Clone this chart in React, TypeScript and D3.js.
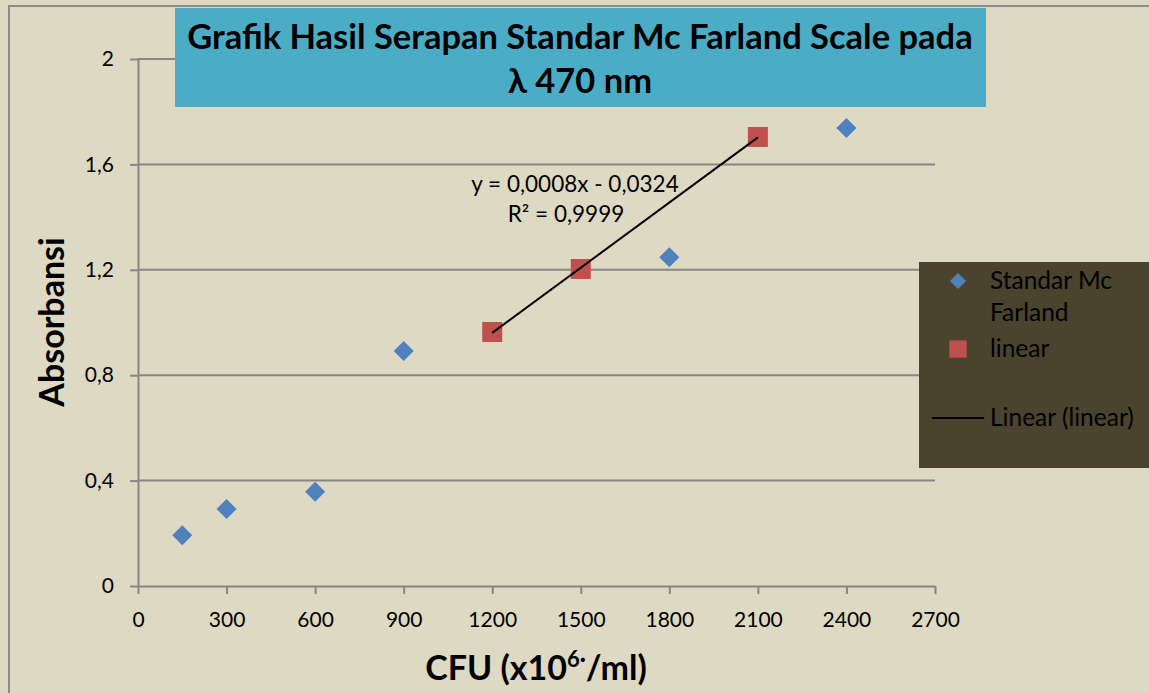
import * as d3 from "d3";
import { useEffect, useRef } from "react";

const standarX = [150, 300, 600, 900, 1800, 2400];
const standarY = [0.193, 0.292, 0.358, 0.892, 1.248, 1.738];
const linearX = [1200, 1500, 2100];
const linearY = [0.964, 1.203, 1.704];
const xTicks = [0, 300, 600, 900, 1200, 1500, 1800, 2100, 2400, 2700];
const yTicks = [0, 0.4, 0.8, 1.2, 1.6, 2];

const W = 1149;
const H = 693;

export default function App() {
  const svgRef = useRef<SVGSVGElement>(null);

  useEffect(() => {
    const svg = d3.select(svgRef.current);
    svg.selectAll("*").remove();
    const font = "Lato, 'Open Sans', sans-serif";

    // background + outer border
    svg.append("rect").attr("width", W).attr("height", H).attr("fill", "#ddd9c3");
    svg.append("path")
      .attr("d", `M9,${H} V6 H${W}`)
      .attr("fill", "none")
      .attr("stroke", "#8c8c8c")
      .attr("stroke-width", 2);

    const x = d3.scaleLinear().domain([0, 2700]).range([138, 935]);
    const y = d3.scaleLinear().domain([0, 2]).range([586, 59]);

    // gridlines
    svg.append("g")
      .selectAll("line")
      .data(yTicks.slice(1))
      .join("line")
      .attr("x1", x(0))
      .attr("x2", x(2700))
      .attr("y1", (d) => y(d))
      .attr("y2", (d) => y(d))
      .attr("stroke", "#868686")
      .attr("stroke-width", 2);

    // y axis
    const fmt = (d: number) => (d === 0 ? "0" : d3.format("~g")(d).replace(".", ","));
    const yAxis = svg.append("g")
      .attr("transform", `translate(${x(0)},0)`)
      .call(d3.axisLeft(y).tickValues(yTicks).tickSize(8).tickSizeOuter(0).tickPadding(16).tickFormat((d) => fmt(d as number)));
    // x axis
    const xAxis = svg.append("g")
      .attr("transform", `translate(0,${y(0)})`)
      .call(d3.axisBottom(x).tickValues(xTicks).tickSize(8).tickSizeOuter(0).tickPadding(18).tickFormat((d) => String(d)));
    [yAxis, xAxis].forEach((a) => {
      a.selectAll("path, line").attr("stroke", "#868686").attr("stroke-width", 2);
      a.selectAll("text").attr("font-family", font).attr("font-size", 21).attr("fill", "#000");
    });

    // axis titles
    svg.append("text")
      .attr("transform", `translate(64,322) rotate(-90)`)
      .attr("text-anchor", "middle")
      .attr("font-family", font)
      .attr("font-weight", "bold")
      .attr("font-size", 34)
      .text("Absorbansi");
    const xt = svg.append("text")
      .attr("x", 536)
      .attr("y", 680)
      .attr("text-anchor", "middle")
      .attr("font-family", font)
      .attr("font-weight", "bold")
      .attr("font-size", 34);
    xt.append("tspan").text("CFU (x10");
    xt.append("tspan").attr("dy", -13).attr("font-size", 22).text("6·");
    xt.append("tspan").attr("dy", 13).text("/ml)");

    // trendline (least squares on linear series)
    const mx = d3.mean(linearX)!;
    const my = d3.mean(linearY)!;
    const slope =
      d3.sum(linearX, (v, i) => (v - mx) * (linearY[i] - my)) /
      d3.sum(linearX, (v) => (v - mx) ** 2);
    const icpt = my - slope * mx;
    const x0 = d3.min(linearX)!;
    const x1 = d3.max(linearX)!;

    // markers
    svg.append("g")
      .selectAll("path")
      .data(standarX.map((v, i) => [v, standarY[i]]))
      .join("path")
      .attr("transform", (d) => `translate(${x(d[0])},${y(d[1])}) rotate(45)`)
      .attr("d", d3.symbol().type(d3.symbolSquare).size(200)())
      .attr("fill", "#4f81bd");
    svg.append("g")
      .selectAll("path")
      .data(linearX.map((v, i) => [v, linearY[i]]))
      .join("path")
      .attr("transform", (d) => `translate(${x(d[0])},${y(d[1])})`)
      .attr("d", d3.symbol().type(d3.symbolSquare).size(400)())
      .attr("fill", "#c0504d");

    svg.append("line")
      .attr("x1", x(x0))
      .attr("y1", y(slope * x0 + icpt))
      .attr("x2", x(x1))
      .attr("y2", y(slope * x1 + icpt))
      .attr("stroke", "#000")
      .attr("stroke-width", 2);

    svg.append("text")
      .attr("x", 575)
      .attr("y", 192)
      .attr("text-anchor", "middle")
      .attr("font-family", font)
      .attr("font-size", 22.5)
      .text("y = 0,0008x - 0,0324");
    svg.append("text")
      .attr("x", 566)
      .attr("y", 222)
      .attr("text-anchor", "middle")
      .attr("font-family", font)
      .attr("font-size", 22.5)
      .text("R² = 0,9999");

    // title box
    svg.append("rect")
      .attr("x", 175)
      .attr("y", 8)
      .attr("width", 811)
      .attr("height", 99)
      .attr("fill", "#4bacc6");
    ["Grafik Hasil Serapan Standar Mc Farland Scale pada", "λ 470 nm"].forEach((t, i) => {
      svg.append("text")
        .attr("x", 580)
        .attr("y", 49 + i * 44)
        .attr("text-anchor", "middle")
        .attr("font-family", font)
        .attr("font-weight", "bold")
        .attr("font-size", 34.5)
        .text(t);
    });

    // legend
    svg.append("rect")
      .attr("x", 919)
      .attr("y", 262)
      .attr("width", W - 919)
      .attr("height", 206)
      .attr("fill", "#4a432e");
    svg.append("path")
      .attr("transform", "translate(958,281) rotate(45)")
      .attr("d", d3.symbol().type(d3.symbolSquare).size(130)())
      .attr("fill", "#4f81bd");
    svg.append("path")
      .attr("transform", "translate(958,349)")
      .attr("d", d3.symbol().type(d3.symbolSquare).size(300)())
      .attr("fill", "#c0504d");
    svg.append("line")
      .attr("x1", 932)
      .attr("x2", 984)
      .attr("y1", 418)
      .attr("y2", 418)
      .attr("stroke", "#000")
      .attr("stroke-width", 2);
    [
      ["Standar Mc", 289],
      ["Farland", 321],
      ["linear", 357],
      ["Linear (linear)", 426],
    ].forEach(([t, yy]) => {
      svg.append("text")
        .attr("x", 990)
        .attr("y", yy as number)
        .attr("font-family", font)
        .attr("font-size", 24.5)
        .attr("fill", "#000")
        .text(t as string);
    });
  }, []);

  return (
    <svg
      ref={svgRef}
      width={W}
      height={H}
      style={{ position: "absolute", left: 0, top: 0 }}
    />
  );
}
